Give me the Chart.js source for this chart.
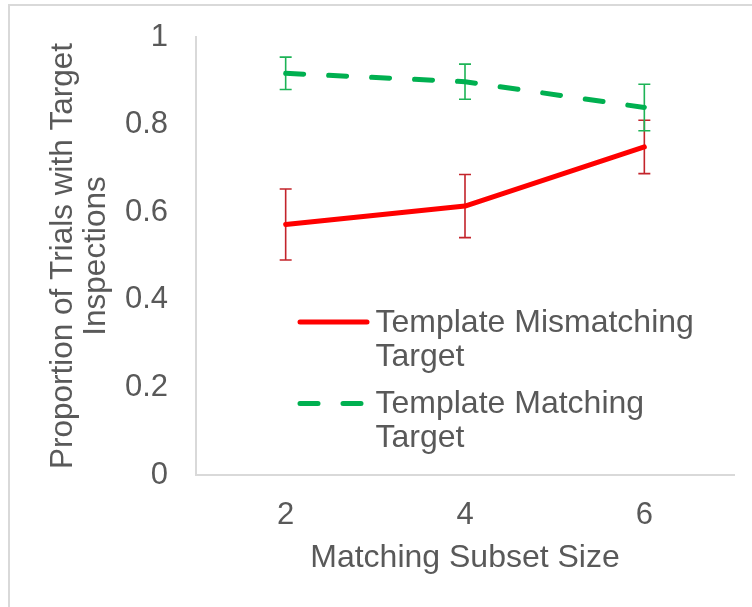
<!DOCTYPE html>
<html>
<head>
<meta charset="utf-8">
<script src="https://cdn.jsdelivr.net/npm/chart.js@4.4.1/dist/chart.umd.min.js"></script>
<style>
  html, body { margin: 0; padding: 0; background: #ffffff; }
  #wrap { position: relative; width: 752px; height: 607px; }
</style>
</head>
<body>
<div id="wrap"><canvas id="chart"></canvas></div>
<script>
// Proportion of trials with target inspections, by matching subset size
const subsetSizes = ['2', '4', '6'];
const mismatchMean = [0.572, 0.614, 0.749];
const mismatchErr = [0.081, 0.072, 0.061];
const matchMean = [0.917, 0.898, 0.839];
const matchErr = [0.037, 0.040, 0.053];
const yTickValues = [0, 0.2, 0.4, 0.6, 0.8, 1];
const yTickLabels = ['0', '0.2', '0.4', '0.6', '0.8', '1'];
const seriesLabels = ['Template Mismatching Target', 'Template Matching Target'];
const legendLines = [['Template Mismatching', 'Target'], ['Template Matching', 'Target']];
const xTitle = 'Matching Subset Size';
const yTitle = ['Proportion of Trials with Target', 'Inspections'];

const FONT = '"Liberation Sans", Arial, Helvetica, sans-serif';
const TEXT = '#595959';
const AXIS = '#d9d9d9';

// light frame around the whole figure
const frame = {
  id: 'frame',
  beforeDraw(chart) {
    const { ctx } = chart;
    ctx.save();
    ctx.fillStyle = '#ffffff';
    ctx.fillRect(0, 0, chart.width, chart.height);
    ctx.strokeStyle = AXIS;
    ctx.lineWidth = 2;
    ctx.strokeRect(9, 5, chart.width + 20, chart.height + 20);
    ctx.restore();
  }
};

// vertical error bars with caps, drawn from each dataset's errors array
const errorBars = {
  id: 'errorBars',
  beforeDatasetsDraw(chart) {
    const { ctx, scales: { y } } = chart;
    chart.data.datasets.forEach((ds, i) => {
      const meta = chart.getDatasetMeta(i);
      ctx.save();
      ctx.strokeStyle = ds.errorColor;
      ctx.lineWidth = 1.6;
      ds.data.forEach((v, j) => {
        const px = meta.data[j].x;
        const top = y.getPixelForValue(v + ds.errors[j]);
        const bot = y.getPixelForValue(v - ds.errors[j]);
        ctx.beginPath();
        ctx.moveTo(px, top); ctx.lineTo(px, bot);
        ctx.moveTo(px - 6, top); ctx.lineTo(px + 6, top);
        ctx.moveTo(px - 6, bot); ctx.lineTo(px + 6, bot);
        ctx.stroke();
      });
      ctx.restore();
    });
  }
};

// legend placed inside the plot, with wrapped two-line entries
const insideLegend = {
  id: 'insideLegend',
  afterDraw(chart) {
    const { ctx } = chart;
    const rows = [322, 403.5];
    chart.data.datasets.forEach((ds, i) => {
      const yy = rows[i];
      ctx.save();
      ctx.strokeStyle = ds.borderColor;
      ctx.lineWidth = ds.borderWidth;
      ctx.lineCap = 'round';
      ctx.setLineDash(ds.borderDash || []);
      ctx.beginPath();
      ctx.moveTo(300, yy);
      ctx.lineTo(367, yy);
      ctx.stroke();
      ctx.restore();

      ctx.save();
      ctx.fillStyle = TEXT;
      ctx.font = '32px ' + FONT;
      ctx.textAlign = 'left';
      ctx.textBaseline = 'middle';
      legendLines[i].forEach((line, k) => {
        ctx.fillText(line, 375.5, yy + 1 + k * 34);
      });
      ctx.restore();
    });
  }
};

new Chart(document.getElementById('chart'), {
  type: 'line',
  data: {
    labels: subsetSizes,
    datasets: [
      {
        label: seriesLabels[0],
        data: mismatchMean,
        errors: mismatchErr,
        errorColor: '#c3242b',
        borderColor: '#ff0000',
        backgroundColor: '#ff0000',
        borderWidth: 5,
        borderCapStyle: 'round',
        borderJoinStyle: 'round',
        pointRadius: 0,
        pointHoverRadius: 0,
        tension: 0,
        fill: false
      },
      {
        label: seriesLabels[1],
        data: matchMean,
        errors: matchErr,
        errorColor: '#1db356',
        borderColor: '#00b050',
        backgroundColor: '#00b050',
        borderWidth: 5,
        borderDash: [18, 25],
        borderCapStyle: 'round',
        borderJoinStyle: 'round',
        pointRadius: 0,
        pointHoverRadius: 0,
        tension: 0,
        fill: false
      }
    ]
  },
  options: {
    responsive: true,
    maintainAspectRatio: false,
    animation: false,
    devicePixelRatio: 1,
    layout: { padding: { left: 0, right: 18, top: 37, bottom: 0 } },
    plugins: {
      legend: { display: false },
      tooltip: { enabled: false }
    },
    scales: {
      x: {
        type: 'category',
        offset: true,
        grid: { display: true, drawOnChartArea: false, drawTicks: false, color: 'rgba(0,0,0,0)' },
        border: { display: true, color: AXIS, width: 2 },
        ticks: {
          color: TEXT,
          padding: 25,
          font: { family: FONT, size: 31, lineHeight: '31px' },
          maxRotation: 0
        },
        title: {
          display: true,
          text: xTitle,
          color: TEXT,
          font: { family: FONT, size: 32, lineHeight: '32px' },
          padding: { top: 0, bottom: 33 }
        },
        afterFit(scale) { scale.height = 132; }
      },
      y: {
        min: 0,
        max: 1,
        grid: { display: true, drawOnChartArea: false, drawTicks: false, color: 'rgba(0,0,0,0)' },
        border: { display: true, color: AXIS, width: 2 },
        afterBuildTicks(scale) {
          scale.ticks = yTickValues.map(v => ({ value: v }));
        },
        ticks: {
          color: TEXT,
          padding: 28,
          font: { family: FONT, size: 31, lineHeight: '12px' },
          callback(value) {
            const k = yTickValues.indexOf(value);
            return k >= 0 ? yTickLabels[k] : '';
          }
        },
        title: {
          display: true,
          text: yTitle,
          color: TEXT,
          font: { family: FONT, size: 31.5, lineHeight: '33px' },
          padding: { top: 46.5, bottom: 0 }
        },
        afterFit(scale) { scale.width = 196; }
      }
    }
  },
  plugins: [frame, errorBars, insideLegend]
});
</script>
</body>
</html>
